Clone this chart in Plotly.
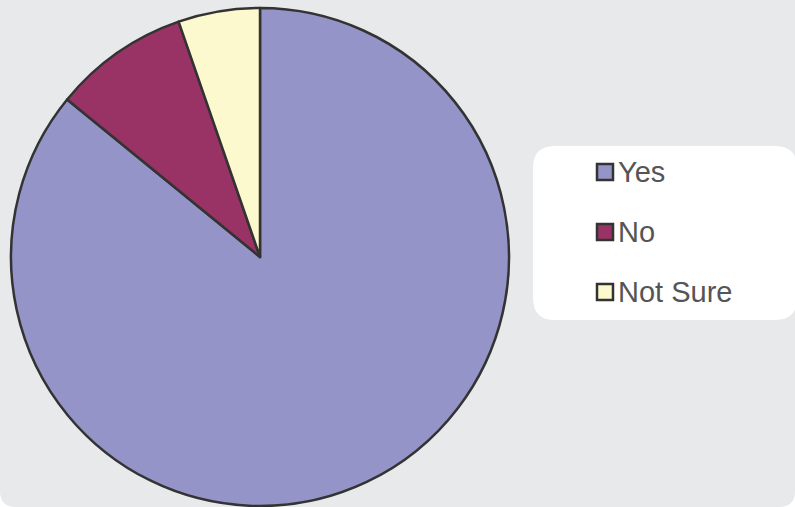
import plotly.graph_objects as go

labels = ["Yes", "No", "Not Sure"]
values = [85.9, 8.8, 5.3]
colors = ["#9494C8", "#993366", "#FDF9CE"]

W, H = 795, 507
fig = go.Figure()
fig.add_trace(go.Pie(
    labels=labels, values=values, sort=False, direction="clockwise", rotation=0,
    marker=dict(colors=colors, line=dict(color="#333333", width=2.5)),
    textinfo="none", hoverinfo="label+percent", showlegend=False,
    domain=dict(x=[11 / W, 509 / W], y=[1 - 506 / H, 1 - 8 / H]),
))

def px(x):
    return x / W

def py(y):
    return 1 - y / H

shapes = []
# background rounded rect (rounded bottom corners)
r = 16
shapes.append(dict(type="path", xref="paper", yref="paper",
    path=f"M {px(0)},{py(-20)} L {px(W)},{py(-20)} L {px(W)},{py(H - r)} Q {px(W)},{py(H)} {px(W - r)},{py(H)} "
         f"L {px(r)},{py(H)} Q {px(0)},{py(H)} {px(0)},{py(H - r)} Z",
    fillcolor="#E8E9EB", line=dict(width=0), layer="below"))
# legend box
lx0, ly0, lx1, ly1, lr = 533, 146, 797, 320, 22
shapes.append(dict(type="path", xref="paper", yref="paper",
    path=f"M {px(lx0 + lr)},{py(ly0)} L {px(lx1 - lr)},{py(ly0)} Q {px(lx1)},{py(ly0)} {px(lx1)},{py(ly0 + lr)} "
         f"L {px(lx1)},{py(ly1 - lr)} Q {px(lx1)},{py(ly1)} {px(lx1 - lr)},{py(ly1)} "
         f"L {px(lx0 + lr)},{py(ly1)} Q {px(lx0)},{py(ly1)} {px(lx0)},{py(ly1 - lr)} "
         f"L {px(lx0)},{py(ly0 + lr)} Q {px(lx0)},{py(ly0)} {px(lx0 + lr)},{py(ly0)} Z",
    fillcolor="white", line=dict(width=0), layer="below"))

annotations = []
centers = [172, 232, 292]
for lab, col, cy in zip(labels, colors, centers):
    shapes.append(dict(type="rect", xref="paper", yref="paper",
        x0=px(597), x1=px(613), y0=py(cy + 8), y1=py(cy - 8),
        fillcolor=col, line=dict(color="#333333", width=2.5)))
    annotations.append(dict(xref="paper", yref="paper", x=px(616), y=py(cy),
        xanchor="left", yanchor="middle", text=lab, showarrow=False,
        font=dict(family="Liberation Sans, Arial", size=29, color="#555555")))

fig.update_layout(
    width=W, height=H, margin=dict(l=0, r=0, t=0, b=0),
    paper_bgcolor="white", plot_bgcolor="white",
    shapes=shapes, annotations=annotations,
)
fig.write_html("out.html", config={"displayModeBar": False},
               post_script="document.body.style.margin='0';document.body.style.overflow='hidden';")
